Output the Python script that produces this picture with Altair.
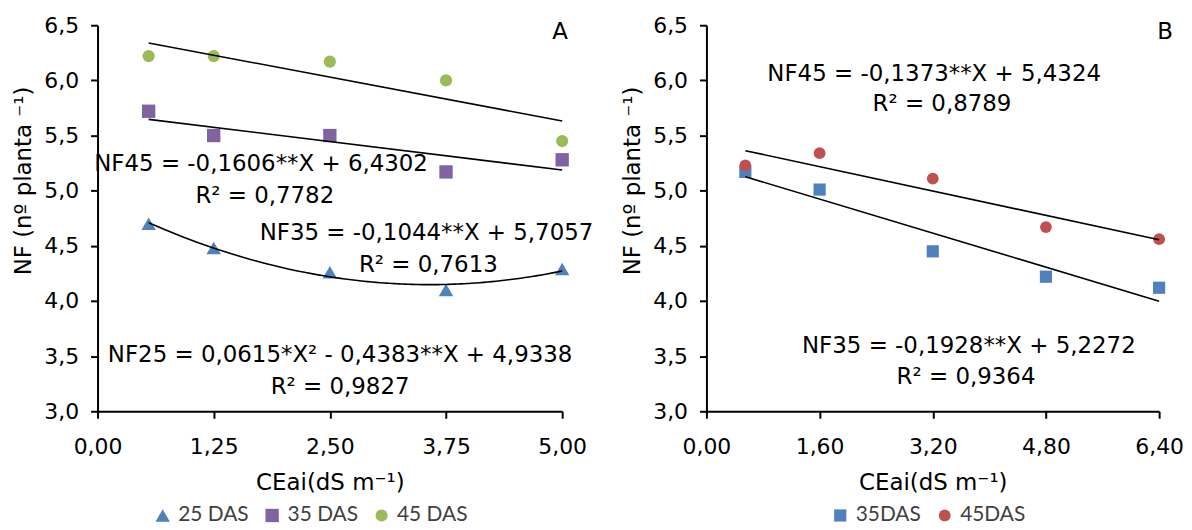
import altair as alt
import pandas as pd

# ---------------- data ----------------
xa = [0.55, 1.25, 2.50, 3.75, 5.00]
nf25_a = [4.70, 4.48, 4.26, 4.10, 4.29]
nf35_a = [5.72, 5.50, 5.50, 5.17, 5.28]
nf45_a = [6.22, 6.22, 6.17, 6.00, 5.45]
series_a = ["25 DAS", "35 DAS", "45 DAS"]

xb = [0.55, 1.60, 3.20, 4.80, 6.40]
nf35_b = [5.17, 5.01, 4.45, 4.22, 4.12]
nf45_b = [5.23, 5.34, 5.11, 4.67, 4.56]
series_b = ["35DAS", "45DAS"]

ticks_xa = [0, 1.25, 2.5, 3.75, 5.0]
ticks_xb = [0, 1.6, 3.2, 4.8, 6.4]
ticks_y = [3.0, 3.5, 4.0, 4.5, 5.0, 5.5, 6.0, 6.5]

eq_a = ["NF45 = -0,1606**X + 6,4302", "R² = 0,7782",
        "NF35 = -0,1044**X + 5,7057", "R² = 0,7613",
        "NF25 = 0,0615*X² - 0,4383**X + 4,9338", "R² = 0,9827"]
eq_b = ["NF45 = -0,1373**X + 5,4324", "R² = 0,8789",
        "NF35 = -0,1928**X + 5,2272", "R² = 0,9364"]

# annotation anchor points (data coordinates)
eq_a_x = [1.76, 1.80, 3.54, 3.56, 2.61, 2.61]
eq_a_y = [5.24, 4.955, 4.62, 4.33, 3.51, 3.22]
eq_b_x = [3.22, 3.33, 3.71, 3.67]
eq_b_y = [6.06, 5.79, 3.59, 3.31]

FONT = "DejaVu Sans"
LEG_FONT = "Lato"

dfa = pd.DataFrame({
    "x": xa * 3,
    "y": nf25_a + nf35_a + nf45_a,
    "s": [series_a[0]] * 5 + [series_a[1]] * 5 + [series_a[2]] * 5,
})
dfb = pd.DataFrame({
    "x": xb * 2,
    "y": nf35_b + nf45_b,
    "s": [series_b[0]] * 5 + [series_b[1]] * 5,
})

W_A, W_B, H = 467, 455, 388

AX_STYLE = dict(domain=True, ticks=True, domainColor="black", tickColor="black",
                domainWidth=2, tickWidth=2, tickSize=7, grid=False,
                labelFlush=False, labelOverlap=False)


def xaxis(vals):
    return alt.Axis(values=vals, title="CEai(dS m⁻¹)",
                    labelExpr="replace(format(datum.value, '.2f'), '.', ',')",
                    labelPadding=18, titlePadding=15, **AX_STYLE)


yaxis = alt.Axis(values=ticks_y, title="NF (nº planta ⁻¹)",
                 labelExpr="replace(format(datum.value, '.1f'), '.', ',')",
                 labelPadding=12, titleY=156, titlePadding=8, **AX_STYLE)


def panel(df, xdom, xticks, series, colors, shapes, sizes, reg_specs, texts, tx, ty,
          letter, letter_x, width, legend_x):
    leg = alt.Legend(orient="none", legendX=legend_x, legendY=H + 94,
                     direction="horizontal", title=None,
                     labelFont=LEG_FONT, labelFontSize=21, labelColor="#404040",
                     symbolSize=110, symbolStrokeWidth=0, columnPadding=13,
                     labelOffset=5)
    xs = alt.Scale(domain=xdom, nice=False, zero=False)
    ys = alt.Scale(domain=[3.0, 6.5], nice=False, zero=False)
    pts = alt.Chart(df).mark_point(filled=True, opacity=1).encode(
        x=alt.X("x:Q", scale=xs, axis=xaxis(xticks)),
        y=alt.Y("y:Q", scale=ys, axis=yaxis),
        color=alt.Color("s:N", scale=alt.Scale(domain=series, range=colors), legend=leg),
        shape=alt.Shape("s:N", scale=alt.Scale(domain=series, range=shapes), legend=leg),
        size=alt.Size("s:N", scale=alt.Scale(domain=series, range=sizes), legend=None),
    )
    layers = []
    for name, method, order in reg_specs:
        kw = {"method": method}
        if order:
            kw["order"] = order
        layers.append(
            alt.Chart(df).transform_filter(alt.datum.s == name)
            .transform_regression("x", "y", **kw)
            .mark_line(color="black", strokeWidth=1.6)
            .encode(x="x:Q", y="y:Q")
        )
    for t, x0, y0 in zip(texts, tx, ty):
        layers.append(
            alt.Chart(pd.DataFrame({"t": [t]})).mark_text(
                font=FONT, fontSize=23, color="black", align="center", baseline="middle"
            ).encode(text="t:N", x=alt.datum(x0), y=alt.datum(y0))
        )
    layers.append(
        alt.Chart(pd.DataFrame({"t": [letter]})).mark_text(
            font=FONT, fontSize=23, color="black", align="center", baseline="middle"
        ).encode(text="t:N", x=alt.value(letter_x), y=alt.value(7))
    )
    return alt.layer(pts, *layers).properties(width=width, height=H)


chartA = panel(dfa, [0, 5.0], ticks_xa, series_a,
               ["#4F81BD", "#8064A2", "#9BBB59"],
               ["triangle-up", "square", "circle"], [210, 150, 140],
               [("45 DAS", "linear", None), ("35 DAS", "linear", None),
                ("25 DAS", "poly", 2)],
               eq_a, eq_a_x, eq_a_y, "A", 465, W_A, 55)

chartB = panel(dfb, [0, 6.4], ticks_xb, series_b,
               ["#4F81BD", "#C0504D"],
               ["square", "circle"], [150, 140],
               [("45DAS", "linear", None), ("35DAS", "linear", None)],
               eq_b, eq_b_x, eq_b_y, "B", 461, W_B, 124)

chart = alt.hconcat(chartA, chartB, spacing=145, bounds="flush").resolve_scale(
    color="independent", shape="independent", size="independent",
    x="independent", y="independent"
).resolve_legend(color="independent", shape="independent").properties(
    padding={"left": 5, "top": 5, "right": 0, "bottom": 0}
).configure_view(stroke=None).configure_axis(
    labelFont=FONT, labelFontSize=22, labelColor="black",
    titleFont=FONT, titleFontSize=23, titleFontWeight="normal", titleColor="black"
)

chart.save("out.html", embed_options={"renderer": "svg", "actions": False})
